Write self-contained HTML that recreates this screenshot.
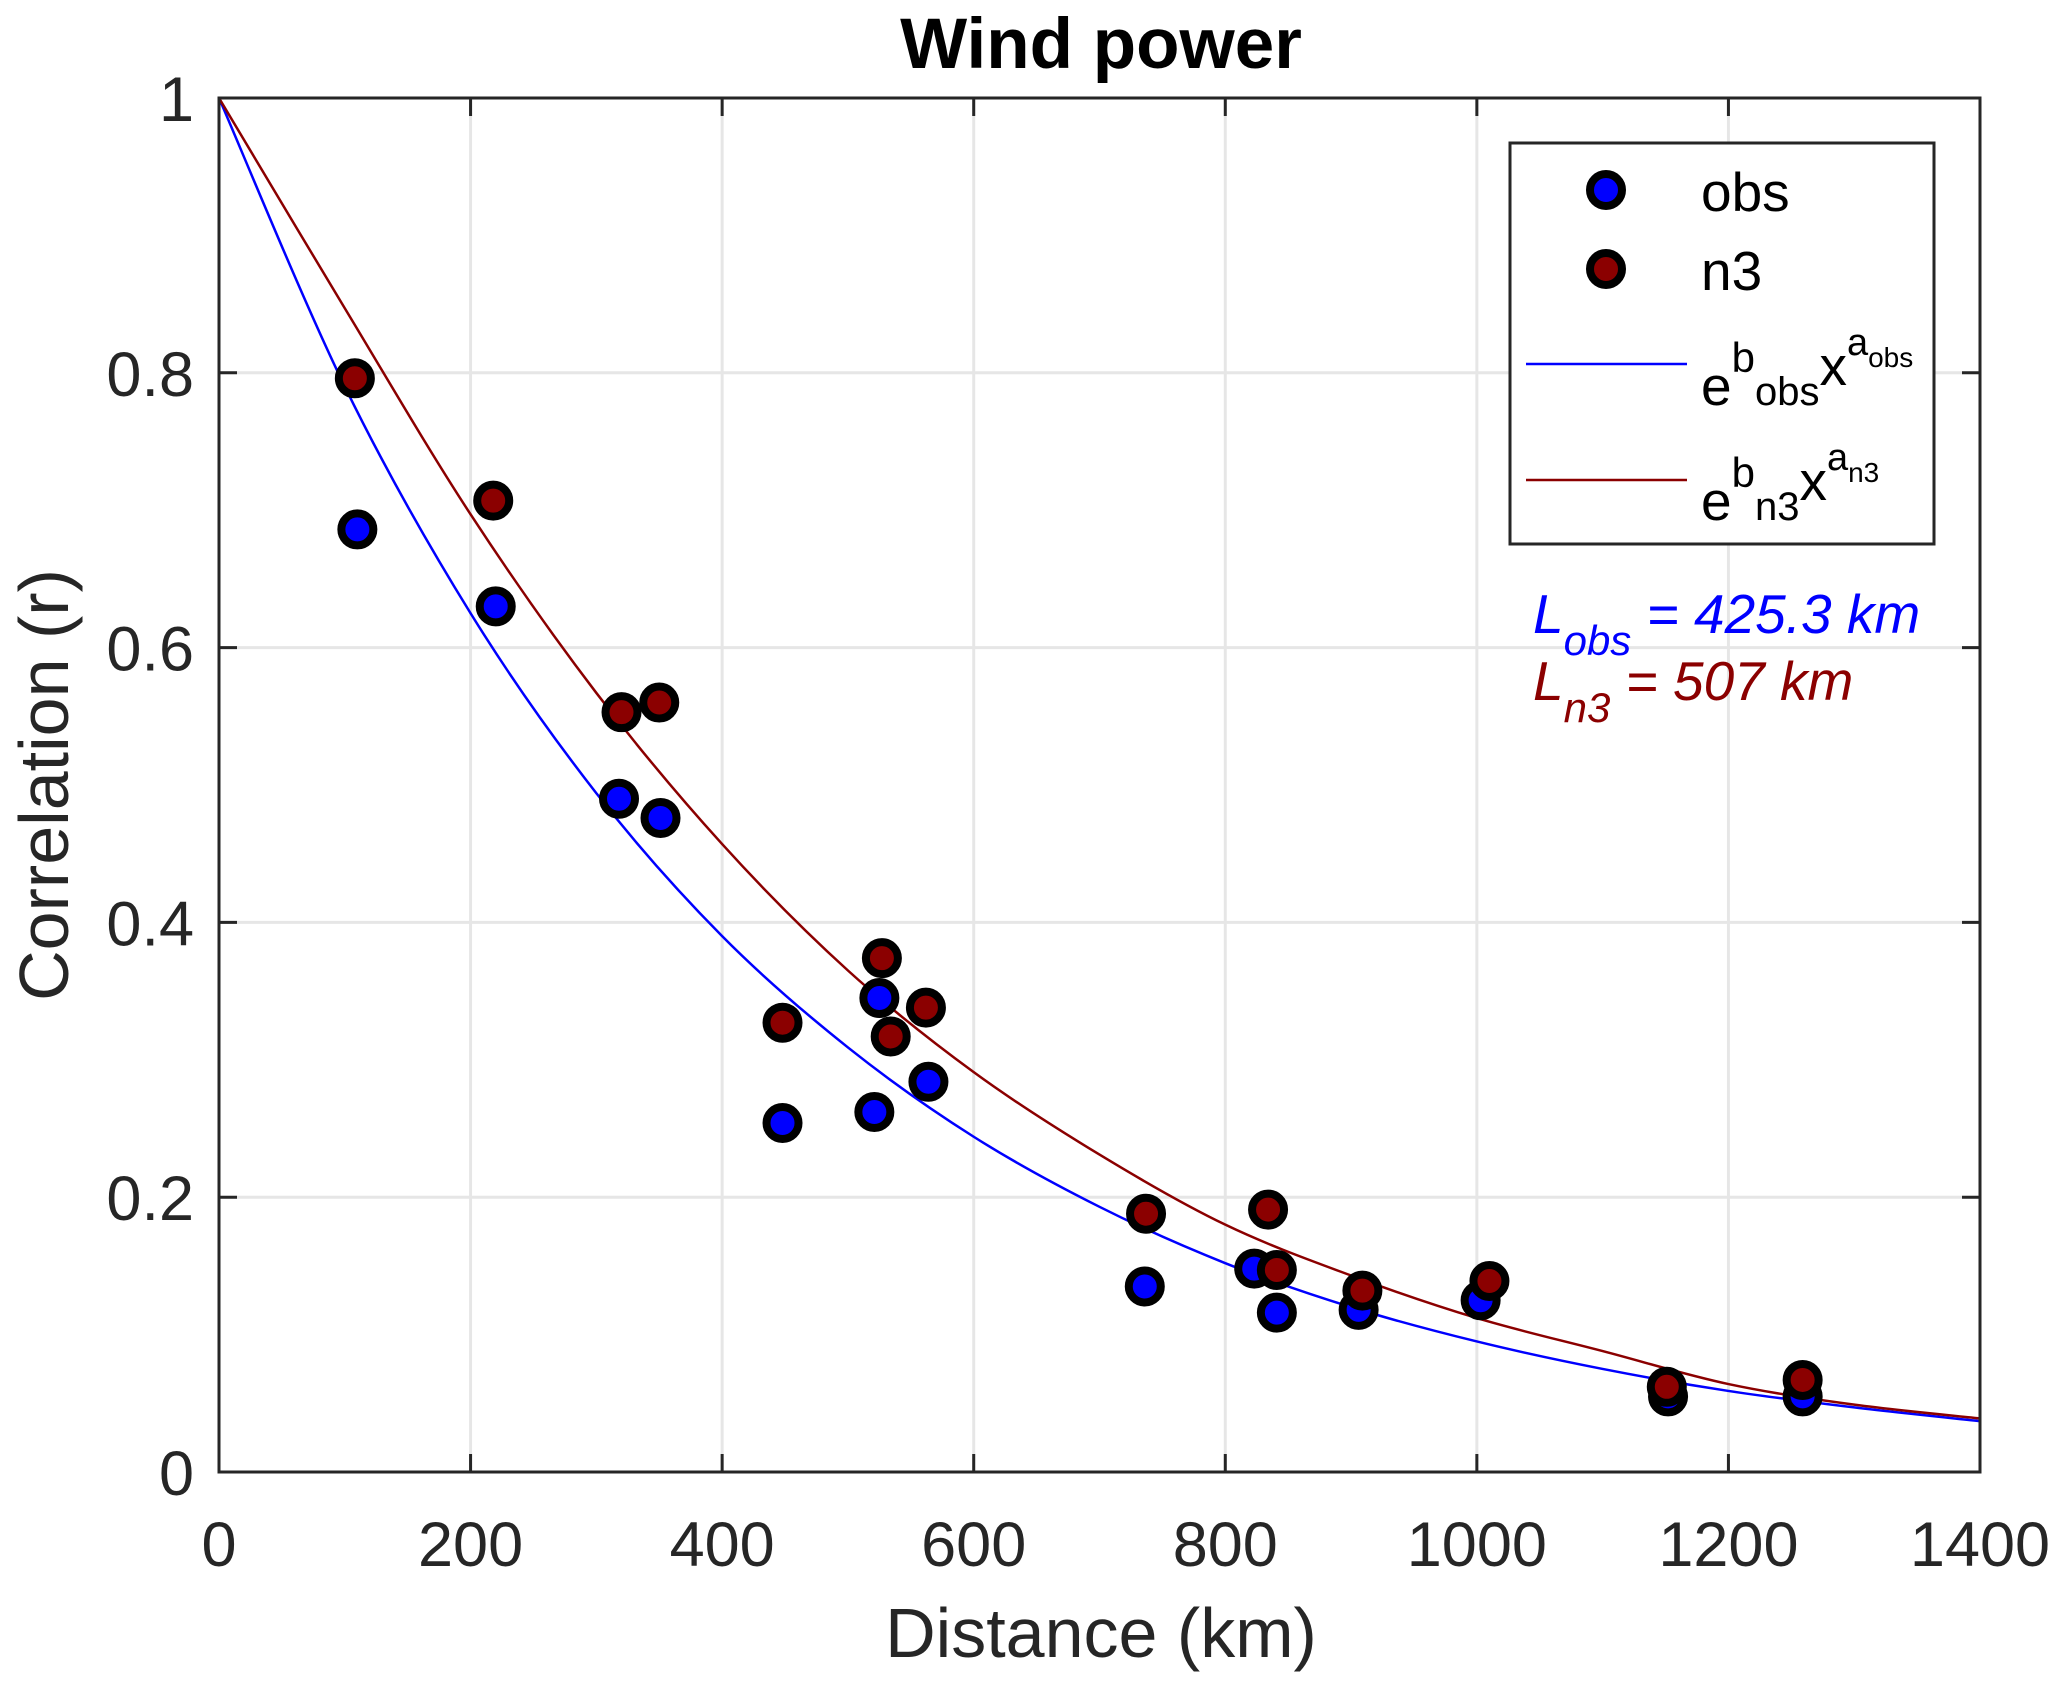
<!DOCTYPE html>
<html><head><meta charset="utf-8"><style>
html,body{margin:0;padding:0;background:#fff;}
svg{display:block;font-family:"Liberation Sans",Arial,sans-serif;}
</style></head><body>
<svg id="chart" width="2067" height="1693" viewBox="0 0 2067 1693" xmlns="http://www.w3.org/2000/svg">
<g id="grid"></g>
<g id="curves"></g>
<g id="points"></g>
<g id="axes"></g>
<text x="1101" y="68" font-size="71" font-weight="bold" text-anchor="middle" fill="#000">Wind power</text>
<text x="1101" y="1657" font-size="70" text-anchor="middle" fill="#262626">Distance (km)</text>
<text transform="translate(68,785) rotate(-90)" font-size="70" text-anchor="middle" fill="#262626">Correlation (r)</text>
<g>
<rect x="1510" y="143" width="424" height="401" fill="#fff" stroke="#262626" stroke-width="3"/>
<circle cx="1606" cy="190" r="16" fill="#0000ff" stroke="#000" stroke-width="8"/>
<text x="1701" y="211" font-size="55" fill="#000">obs</text>
<circle cx="1606" cy="269" r="16" fill="#8b0000" stroke="#000" stroke-width="8"/>
<text x="1701" y="290" font-size="55" fill="#000">n3</text>
<line x1="1526" y1="364" x2="1687" y2="364" stroke="#0000ff" stroke-width="2.5"/>
<text x="1701" y="405" font-size="55" fill="#000">e<tspan dy="-33" font-size="42">b</tspan><tspan dy="33" font-size="40">obs</tspan><tspan dy="-20" font-size="55">x</tspan><tspan dy="-30" font-size="38">a</tspan><tspan dy="12" font-size="28">obs</tspan></text>
<line x1="1526" y1="480" x2="1687" y2="480" stroke="#8b0000" stroke-width="2.5"/>
<text x="1701" y="520" font-size="55" fill="#000">e<tspan dy="-33" font-size="42">b</tspan><tspan dy="33" font-size="40">n3</tspan><tspan dy="-20" font-size="55">x</tspan><tspan dy="-30" font-size="38">a</tspan><tspan dy="12" font-size="28">n3</tspan></text>
</g>
<text x="1533" y="633" font-size="55" font-style="italic" fill="#0000ff">L<tspan dy="22" font-size="42">obs</tspan><tspan dy="-22"> = 425.3 km</tspan></text>
<text x="1533" y="700" font-size="55" font-style="italic" fill="#8b0000">L<tspan dy="22" font-size="42">n3</tspan><tspan dy="-22"> = 507 km</tspan></text>
</svg>
<script>
const xTicks = [0,200,400,600,800,1000,1200,1400];
const yTicks = [0,0.2,0.4,0.6,0.8,1];
const yTickLabels = ["0","0.2","0.4","0.6","0.8","1"];
const obsX = [110,220,318,351,448,521,525,564,736,823,841,906,1003,1152,1259];
const obsY = [0.686,0.630,0.490,0.476,0.254,0.262,0.345,0.284,0.135,0.148,0.116,0.118,0.125,0.055,0.055];
const n3X = [108,218,320,350,448,527,534,562,737,834,841,909,1010,1151,1259];
const n3Y = [0.796,0.707,0.553,0.560,0.327,0.374,0.317,0.338,0.188,0.191,0.147,0.132,0.139,0.062,0.067];
const fitX = [0,100,200,300,400,500,600,700,800,900,1000,1100,1200,1300,1400];
const fitObs = [1,0.790,0.625,0.494,0.390,0.309,0.244,0.193,0.152,0.120,0.095,0.075,0.059,0.047,0.037];
const fitN3 = [1,0.847,0.697,0.567,0.457,0.365,0.291,0.231,0.180,0.143,0.112,0.088,0.064,0.049,0.039];

const L=219,R=1980,T=98,B=1472;
const sx = v => L + (v/1400)*(R-L);
const sy = v => B - v*(B-T);
const NS="http://www.w3.org/2000/svg";
function mk(tag, parent, attrs){const e=document.createElementNS(NS,tag);for(const k in attrs)e.setAttribute(k,attrs[k]);parent.appendChild(e);return e;}
const grid=document.getElementById('grid'), axes=document.getElementById('axes');
xTicks.forEach(t=>{
  const g=mk('line',grid,{x1:sx(t),x2:sx(t),y1:T,y2:B,stroke:'#e6e6e6','stroke-width':3});
  
  
  const a=mk('line',axes,{x1:sx(t),x2:sx(t),y1:B,y2:B-18,stroke:'#262626','stroke-width':3});
  
  
  const b=mk('line',axes,{x1:sx(t),x2:sx(t),y1:T,y2:T+18,stroke:'#262626','stroke-width':3});
  
  
  const tx=mk('text',axes,{x:sx(t),y:1566,'font-size':63,'text-anchor':'middle',fill:'#262626'});
  tx.textContent=String(t);
  
  
});
yTicks.forEach((t,i)=>{
  const g=mk('line',grid,{x1:L,x2:R,y1:sy(t),y2:sy(t),stroke:'#e6e6e6','stroke-width':3});
  
  
  const a=mk('line',axes,{x1:L,x2:L+18,y1:sy(t),y2:sy(t),stroke:'#262626','stroke-width':3});
  
  
  const b=mk('line',axes,{x1:R,x2:R-18,y1:sy(t),y2:sy(t),stroke:'#262626','stroke-width':3});
  
  
  const tx=mk('text',axes,{x:194,y:sy(t)+23,'font-size':63,'text-anchor':'end',fill:'#262626'});
  tx.textContent=yTickLabels[i];
  
  
});
const box=mk('rect',axes,{x:L,y:T,width:R-L,height:B-T,fill:'none',stroke:'#262626','stroke-width':3});



function smoothPath(xs,ys){
  const p=xs.map((x,i)=>[sx(x),sy(ys[i])]);
  let d=`M${p[0][0]},${p[0][1]}`;
  for(let i=0;i<p.length-1;i++){
    const p0=p[Math.max(0,i-1)],p1=p[i],p2=p[i+1],p3=p[Math.min(p.length-1,i+2)];
    const c1=[p1[0]+(p2[0]-p0[0])/6,p1[1]+(p2[1]-p0[1])/6];
    const c2=[p2[0]-(p3[0]-p1[0])/6,p2[1]-(p3[1]-p1[1])/6];
    d+=` C${c1[0]},${c1[1]} ${c2[0]},${c2[1]} ${p2[0]},${p2[1]}`;
  }
  return d;
}
const curves=document.getElementById('curves');
const c1=mk('path',curves,{d:smoothPath(fitX,fitObs),fill:'none',stroke:'#0000ff','stroke-width':2.5});


const c2=mk('path',curves,{d:smoothPath(fitX,fitN3),fill:'none',stroke:'#8b0000','stroke-width':2.5});



const pts=document.getElementById('points');
obsX.forEach((x,i)=>{
  const c=mk('circle',pts,{cx:sx(x),cy:sy(obsY[i]),r:16,fill:'#0000ff',stroke:'#000','stroke-width':8});
  
  
});
n3X.forEach((x,i)=>{
  const c=mk('circle',pts,{cx:sx(x),cy:sy(n3Y[i]),r:16,fill:'#8b0000',stroke:'#000','stroke-width':8});
  
  
});
</script>
</body></html>
